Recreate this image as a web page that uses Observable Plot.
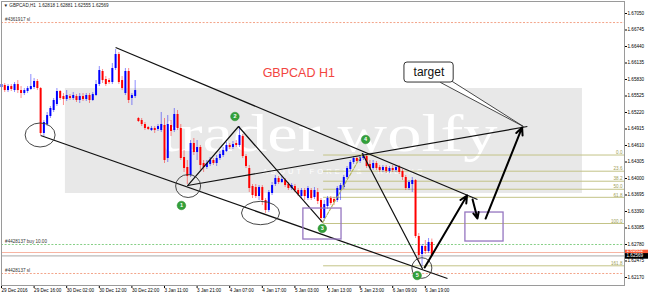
<!DOCTYPE html>
<html><head><meta charset="utf-8">
<script src="https://cdn.jsdelivr.net/npm/d3@7"></script>
<script src="https://cdn.jsdelivr.net/npm/@observablehq/plot@0.6"></script>
<style>html,body{margin:0;padding:0;background:#fff;overflow:hidden}</style>
</head><body>
<div id="chart"></div>
<script>
// ---- candle data (H1 bars, index 0 = 29 Dec 06:00) ----
const opens = [1.65682,1.65719,1.65626,1.65700,1.65626,1.65737,1.65626,1.65571,1.65608,1.65645,1.65682,1.65793,1.65663,1.64832,1.64998,1.65146,1.65257,1.65368,1.65608,1.65515,1.65460,1.65515,1.65479,1.65515,1.65442,1.65515,1.65460,1.65534,1.65442,1.65534,1.65737,1.65978,1.65830,1.65811,1.65774,1.66033,1.66292,1.65811,1.65571,1.65978,1.65479,1.65515,1.65109,1.65072,1.64998,1.64943,1.64887,1.64924,1.64906,1.64887,1.64980,1.64370,1.64980,1.64887,1.65183,1.64924,1.64388,1.64203,1.64055,1.64647,1.64480,1.64573,1.64277,1.64203,1.64259,1.64333,1.64277,1.64370,1.64425,1.64499,1.64610,1.64573,1.64647,1.64610,1.64776,1.64406,1.64185,1.63852,1.63833,1.63667,1.63833,1.63593,1.63408,1.63723,1.63889,1.64000,1.63926,1.63963,1.63889,1.63815,1.63852,1.63778,1.63667,1.63778,1.63630,1.63778,1.63649,1.63741,1.63593,1.63260,1.63482,1.63630,1.63612,1.63593,1.63778,1.63833,1.64018,1.64166,1.64296,1.64370,1.64314,1.64370,1.64406,1.64259,1.64185,1.64277,1.64203,1.64148,1.64203,1.64129,1.64185,1.64148,1.64203,1.64129,1.64018,1.63815,1.63889,1.63963,1.62928,1.62595,1.62743,1.62650,1.62818];
const highs = [1.65774,1.65756,1.65737,1.65737,1.65774,1.65811,1.65700,1.65663,1.65700,1.65922,1.65848,1.65830,1.65682,1.65072,1.65220,1.65331,1.65479,1.65663,1.65626,1.65571,1.65626,1.65552,1.65589,1.65552,1.65571,1.65571,1.65571,1.65571,1.65589,1.65811,1.66070,1.66015,1.65885,1.65848,1.66126,1.66384,1.66329,1.65885,1.66033,1.66033,1.65571,1.65811,1.65127,1.65109,1.65035,1.64961,1.64961,1.64961,1.64998,1.65220,1.65109,1.65164,1.65072,1.65294,1.65257,1.64998,1.64517,1.64333,1.64702,1.64739,1.64702,1.64610,1.64333,1.64333,1.64388,1.64370,1.64425,1.64499,1.64573,1.64665,1.64647,1.64684,1.64702,1.64961,1.64813,1.64443,1.64240,1.63889,1.63889,1.63870,1.63870,1.63630,1.63778,1.63926,1.64055,1.64037,1.64037,1.64000,1.63926,1.63907,1.63889,1.63815,1.63815,1.63815,1.63852,1.63815,1.63833,1.63815,1.63630,1.63593,1.63667,1.63667,1.63649,1.63852,1.63907,1.64055,1.64222,1.64333,1.64406,1.64406,1.64425,1.64462,1.64443,1.64333,1.64333,1.64314,1.64240,1.64240,1.64240,1.64222,1.64240,1.64240,1.64240,1.64166,1.64055,1.63963,1.64018,1.63981,1.62983,1.62780,1.62854,1.62891,1.62881];
const lows = [1.65645,1.65589,1.65589,1.65608,1.65589,1.65571,1.65479,1.65534,1.65571,1.65626,1.65645,1.65626,1.64795,1.64776,1.64961,1.65109,1.65220,1.65331,1.65442,1.65349,1.65423,1.65442,1.65442,1.65405,1.65386,1.65423,1.65423,1.65386,1.65423,1.65515,1.65700,1.65756,1.65700,1.65737,1.65737,1.65996,1.65737,1.65626,1.65534,1.65386,1.65349,1.65479,1.65035,1.64961,1.64887,1.64887,1.64869,1.64832,1.64869,1.64850,1.64277,1.64296,1.64776,1.64850,1.64887,1.64333,1.64111,1.63889,1.64018,1.64425,1.64333,1.64148,1.64111,1.64166,1.64222,1.64240,1.64222,1.64333,1.64388,1.64480,1.64536,1.64536,1.64573,1.64573,1.64370,1.64185,1.63741,1.63630,1.63630,1.63593,1.63501,1.63353,1.63371,1.63686,1.63852,1.63889,1.63907,1.63833,1.63778,1.63778,1.63741,1.63667,1.63612,1.63593,1.63593,1.63593,1.63612,1.63519,1.63187,1.63205,1.63427,1.63501,1.63501,1.63556,1.63593,1.63797,1.63981,1.64129,1.64259,1.64277,1.64277,1.64333,1.64185,1.64148,1.64148,1.64148,1.64111,1.64111,1.64092,1.64092,1.64111,1.64111,1.64074,1.63963,1.63778,1.63778,1.63741,1.62891,1.62447,1.62373,1.62595,1.62614,1.62555];
const closes = [1.65737,1.65626,1.65700,1.65645,1.65737,1.65626,1.65571,1.65626,1.65663,1.65700,1.65793,1.65663,1.64832,1.65035,1.65164,1.65294,1.65442,1.65608,1.65479,1.65460,1.65534,1.65479,1.65534,1.65442,1.65515,1.65460,1.65534,1.65442,1.65552,1.65737,1.65996,1.65811,1.65737,1.65774,1.66033,1.66292,1.65774,1.65663,1.65978,1.65442,1.65534,1.65626,1.65053,1.64998,1.64924,1.64906,1.64924,1.64887,1.64961,1.64998,1.64333,1.64998,1.64869,1.65183,1.64924,1.64370,1.64185,1.64037,1.64647,1.64480,1.64573,1.64240,1.64203,1.64277,1.64333,1.64277,1.64370,1.64443,1.64517,1.64610,1.64573,1.64628,1.64610,1.64795,1.64406,1.64222,1.63815,1.63686,1.63667,1.63833,1.63593,1.63408,1.63741,1.63870,1.64000,1.63926,1.63981,1.63870,1.63815,1.63870,1.63778,1.63704,1.63778,1.63667,1.63815,1.63630,1.63778,1.63575,1.63260,1.63519,1.63630,1.63538,1.63556,1.63815,1.63870,1.64018,1.64185,1.64296,1.64370,1.64314,1.64388,1.64406,1.64222,1.64185,1.64277,1.64185,1.64148,1.64203,1.64129,1.64185,1.64148,1.64203,1.64111,1.64018,1.63815,1.63926,1.63963,1.62928,1.62577,1.62743,1.62650,1.62817,1.62569];

// ---- axes ----
const xTickBars = [0,10,20,30,40,50,60,70,80,90,100,110,120,130];
const xTickLabels = ["29 Dec 2016","29 Dec 16:00","30 Dec 02:00","30 Dec 12:00","30 Dec 22:00","3 Jan 11:00","3 Jan 21:00","4 Jan 07:00","4 Jan 17:00","5 Jan 03:00","5 Jan 13:00","5 Jan 23:00","6 Jan 09:00","6 Jan 19:00"];
const priceTicks = [1.67050,1.66745,1.66440,1.66135,1.65830,1.65525,1.65220,1.64915,1.64610,1.64305,1.64000,1.63695,1.63390,1.63085,1.62780,1.62475,1.62170];

// ---- header / prices ----
const headerText = "\u25BC GBPCAD,H1  1.62818 1.62881 1.62555 1.62569";
const titleText = "GBPCAD H1";
const bidPrice = 1.62569;
const askPrice = 1.62632;
const orderLabels = ["#4361917 sl", "#4428137 buy 10.00", "#4428137 sl"];
const orderPrices = [1.66883, 1.62780, 1.62244];
const orderColors = ["#f3a489", "#86cf86", "#f3a489"];

// ---- fibonacci ----
const fibLabels = ["0.0","23.6","38.2","50.0","61.8","100.0","161.8"];
const fibPrices = [1.64434,1.64135,1.63950,1.63801,1.63652,1.63168,1.62386];
const fibStartBar = 98.8;

// ---- drawn objects (bar index, price) ----
const trendStartBars = [35.0, 12.0, 57.1];
const trendStartPrices = [1.66421, 1.64795, 1.63870];
const trendEndBars = [146.0, 136.8, 161.3];
const trendEndPrices = [1.63612, 1.62151, 1.64961];
const waveLabels = ["1","2","3","4","5"];
const waveBars = [57.1, 72.7, 98.5, 110.7, 129.1];
const wavePrices = [1.63870, 1.64961, 1.63187, 1.64462, 1.62336];
const markerBars = [55.2, 71.6, 98.4, 111.7, 127.5];
const markerPrices = [1.63501, 1.65146, 1.63076, 1.64721, 1.62207];
const ellipseBars = [12.0, 57.4, 79.6, 129.1];
const ellipsePrices = [1.64795, 1.63852, 1.63353, 1.62336];
const ellipseRx = [15, 12.5, 19, 10];
const ellipseRy = [12, 11.5, 11.7, 10.3];
const boxBars1 = [92.6, 142.3], boxBars2 = [104.3, 154.0];
const boxPrices1 = [1.63445, 1.63371], boxPrices2 = [1.62872, 1.62835];
const arrowBars1 = [129.8, 144.5, 148.5], arrowPrices1 = [1.62355, 1.63612, 1.63260];
const arrowBars2 = [142.8, 146.0, 159.7], arrowPrices2 = [1.63686, 1.63260, 1.64943];
const calloutBox = {x1: 123.6, x2: 138.7, y1: 1.65774, y2: 1.66144, tx: 131.1, ty: 1.65959, text: "target"};
const calloutTail = [[134.7, 1.65774], [160.1, 1.64961], [138.3, 1.65793]];
const watermarkBand = {x1: 19.6, x2: 178.2, y1: 1.63723, y2: 1.65664};
const watermark = {x: 48.8, y: 1.64517, text: "trader wolfy"};
const watermarkSub = {x: 80.1, y: 1.64092, text: "ABOUT FOREX & TRADING"};
const titlePos = {x: 80.1, y: 1.65959};

// ---- build tables ----
const candles = opens.map((o, i) => ({i, open: o, high: highs[i], low: lows[i], close: closes[i]}));
const candleColor = d => d.close >= d.open ? "#0000ff" : "#ff0000";
const orders = orderLabels.map((label, k) => ({label, price: orderPrices[k], color: orderColors[k]}));
const fib = fibLabels.map((label, k) => ({label, price: fibPrices[k]}));
const trends = trendStartBars.map((x1, k) => ({x1, y1: trendStartPrices[k], x2: trendEndBars[k], y2: trendEndPrices[k]}));
const waves = waveBars.map((x, k) => ({x, y: wavePrices[k], label: waveLabels[k]}));
const markers = markerBars.map((x, k) => ({x, y: markerPrices[k], label: waveLabels[k]}));
const ellipses = ellipseBars.map((x, k) => ({x, y: ellipsePrices[k], rx: ellipseRx[k], ry: ellipseRy[k]}));
const boxes = boxBars1.map((x1, k) => ({x1, x2: boxBars2[k], y1: boxPrices1[k], y2: boxPrices2[k]}));
const arrows = arrowBars1.map((x1, k) => ({x1, y1: arrowPrices1[k], x2: arrowBars2[k], y2: arrowPrices2[k]}));
const labelByBar = new Map(xTickBars.map((b, k) => [b, xTickLabels[k]]));
const xMax = 191.1, xOut = 198.8;
const small = 4.6;

const ns = "http://www.w3.org/2000/svg";
const ellipseMark = (index, scales) => {
  const g = document.createElementNS(ns, "g");
  for (const e of ellipses) {
    const el = document.createElementNS(ns, "ellipse");
    el.setAttribute("cx", scales.x(e.x));
    el.setAttribute("cy", scales.y(e.y));
    el.setAttribute("rx", e.rx);
    el.setAttribute("ry", e.ry);
    el.setAttribute("fill", "none");
    el.setAttribute("stroke", "#333");
    el.setAttribute("stroke-width", "0.9");
    g.appendChild(el);
  }
  return g;
};

const chart = Plot.plot({
  width: 648, height: 296,
  marginLeft: 1, marginRight: 24, marginTop: 1, marginBottom: 11,
  style: {fontFamily: "Liberation Sans, Arial, sans-serif", fontSize: small + "px", background: "#fff", color: "#000", overflow: "visible"},
  x: {domain: [0, xMax], ticks: xTickBars, tickFormat: d => labelByBar.get(d), tickSize: 3, tickPadding: 0.5, label: null},
  y: {domain: [1.62022, 1.67272], axis: "right", ticks: priceTicks, tickFormat: d => d.toFixed(5), tickSize: 2, tickPadding: 1, label: null},
  marks: [
    Plot.rect([watermarkBand], {x1: "x1", x2: "x2", y1: "y1", y2: "y2", fill: "#e8e8e8"}),
    Plot.text([watermark], {x: "x", y: "y", text: "text", fill: "#fff", fontSize: 52, fontFamily: "Liberation Serif, serif", textAnchor: "start", lineAnchor: "bottom"}),
    Plot.text([watermarkSub], {x: "x", y: "y", text: "text", fill: "#fff", fontSize: 7.5, fontFamily: "Liberation Sans, sans-serif", textAnchor: "start", lineAnchor: "bottom"}),
    Plot.ruleY(orders, {y: "price", stroke: "color", strokeDasharray: "2,1.6", strokeWidth: 1}),
    Plot.text(orders, {x: 1.1, y: "price", text: "label", textAnchor: "start", lineAnchor: "bottom", dy: -1.2, fill: "#333", fontSize: small}),
    Plot.ruleY([askPrice], {stroke: "#f7b5a3", strokeWidth: 1}),
    Plot.ruleY([bidPrice], {stroke: "#a9a9a9", strokeWidth: 1}),
    Plot.ruleY(fib, {y: "price", x1: fibStartBar, x2: xMax, stroke: "#c3c387", strokeWidth: 1}),
    Plot.text(fib, {x: xMax, y: "price", text: "label", textAnchor: "end", dx: -2, lineAnchor: "bottom", dy: -0.8, fill: "#9d9d55", fontSize: small}),
    Plot.ruleX(candles, {x: "i", y1: "low", y2: "high", stroke: candleColor, strokeOpacity: 0.45, strokeWidth: 1}),
    Plot.ruleX(candles, {x: "i", y1: "open", y2: "close", stroke: candleColor, strokeWidth: 2}),
    Plot.link(trends, {x1: "x1", y1: "y1", x2: "x2", y2: "y2", stroke: "#111", strokeWidth: 1.2}),
    Plot.line(waves.slice(0, 3), {x: "x", y: "y", stroke: "#111", strokeWidth: 1.2}),
    Plot.line(waves.slice(2, 4), {x: "x", y: "y", stroke: "#b3b35a", strokeWidth: 1.1, strokeDasharray: "3,1.5"}),
    Plot.line(waves.slice(3, 5), {x: "x", y: "y", stroke: "#111", strokeWidth: 1.2}),
    ellipseMark,
    Plot.rect(boxes, {x1: "x1", x2: "x2", y1: "y1", y2: "y2", fill: "none", stroke: "#9575c0", strokeWidth: 1.3}),
    Plot.arrow(arrows, {x1: "x1", y1: "y1", x2: "x2", y2: "y2", stroke: "#000", strokeWidth: 2, headLength: 6, headAngle: 50}),
    Plot.line(calloutTail.map(([x, y]) => ({x, y})), {x: "x", y: "y", fill: "#fff", stroke: "#333", strokeWidth: 0.9}),
    Plot.rect([calloutBox], {x1: "x1", x2: "x2", y1: "y1", y2: "y2", fill: "#fff", stroke: "#333", strokeWidth: 1, rx: 3}),
    Plot.text([calloutBox], {x: "tx", y: "ty", text: "text", fontSize: 12, fill: "#111", fontFamily: "Liberation Sans, Arial, sans-serif"}),
    Plot.dot(markers, {x: "x", y: "y", r: 4.3, fill: "#33a03a", stroke: "#2a8a30", strokeWidth: 0.5}),
    Plot.text(markers, {x: "x", y: "y", text: "label", fill: "#fff", fontSize: 5.5, fontWeight: "bold"}),
    Plot.text([titleText], {x: titlePos.x, y: titlePos.y, text: d => d, fill: "#f2453f", fontSize: 12.5, textAnchor: "start", fontFamily: "Liberation Sans, Arial, sans-serif"}),
    Plot.text([headerText], {frameAnchor: "top-left", text: d => d, dx: 2, dy: 2, fill: "#222", fontSize: small}),
    Plot.ruleY([askPrice], {x1: xMax, x2: xOut, stroke: "#ff5a36", strokeWidth: 5.6}),
    Plot.ruleY([bidPrice], {x1: xMax, x2: xOut, stroke: "#000", strokeWidth: 5.6}),
    Plot.text([askPrice], {x: xMax, y: d => d, dy: -1.5, text: d => d.toFixed(5), textAnchor: "start", dx: 2, fill: "#fff", fontSize: small}),
    Plot.text([bidPrice], {x: xMax, y: d => d, text: d => d.toFixed(5), textAnchor: "start", dx: 2, fill: "#fff", fontSize: small}),
    Plot.frame({stroke: "#9a9a9a"})
  ]
});

const svg = d3.select(chart.tagName.toLowerCase() === "svg" ? chart : chart.querySelector("svg"));
svg.selectAll('[aria-label^="x-axis"] text').style("text-anchor", "start");
svg.selectAll('[aria-label^="x-axis"]').attr("text-anchor", "start");
svg.selectAll("text").each(function() {
  const t = this.textContent;
  if (t === watermark.text) { this.setAttribute("textLength", 337); this.setAttribute("lengthAdjust", "spacingAndGlyphs"); }
  if (t === watermarkSub.text) { this.setAttribute("textLength", 160); this.setAttribute("lengthAdjust", "spacing"); }
});
document.getElementById("chart").append(chart);
</script>
</body></html>
